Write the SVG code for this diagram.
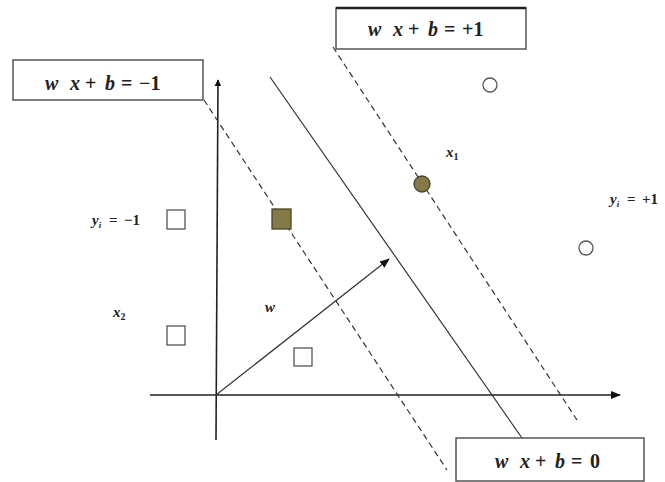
<svg xmlns="http://www.w3.org/2000/svg" width="665" height="482" viewBox="0 0 665 482">
<defs>
<style>
.box{fill:#fff;stroke:#555;stroke-width:1.5}
.eq{font-family:"Liberation Serif",serif;font-weight:bold;font-size:20px;fill:#222}
.lbl{font-family:"Liberation Serif",serif;font-weight:bold;font-size:15px;fill:#222}
.it{font-style:italic}
.ax{stroke:#222;stroke-width:1.6;fill:none}
.dash{stroke:#333;stroke-width:1.2;stroke-dasharray:6,4;fill:none}
.solid{stroke:#333;stroke-width:1.2;fill:none}
.hol{fill:#fff;stroke:#555;stroke-width:1.3}
.fill{fill:#847a48;stroke:#4a4428;stroke-width:1.3}
</style>
<marker id="ah" viewBox="0 0 10 10" refX="9" refY="5" markerWidth="7" markerHeight="7" orient="auto" markerUnits="userSpaceOnUse">
<path d="M0,0 L10,5 L0,10 z" fill="#111"/>
</marker>
<marker id="ahw" viewBox="0 0 10 10" refX="9" refY="5" markerWidth="10" markerHeight="10" orient="auto" markerUnits="userSpaceOnUse">
<path d="M0,1 L10,5 L0,9 z" fill="#111"/>
</marker>
</defs>
<rect width="665" height="482" fill="#fff"/>
<g id="connectors">
<line class="ax" x1="216" y1="440" x2="218" y2="80" marker-end="url(#ah)"/>
<line class="ax" x1="150" y1="395" x2="620" y2="395" marker-end="url(#ahw)"/>
<line class="dash" x1="204" y1="100" x2="447" y2="470"/>
<line class="solid" x1="270" y1="77" x2="522" y2="438"/>
<line class="dash" x1="333" y1="47" x2="577" y2="420"/>
<line class="solid" x1="216" y1="395" x2="389" y2="259" stroke-width="1.6" marker-end="url(#ahw)"/>
</g>
<g id="box-plus1">
<rect class="box" x="336" y="8" width="190" height="41"/>
<line x1="336" y1="8" x2="526" y2="8" stroke="#222" stroke-width="2.5"/>
<text class="eq" y="36"><tspan class="it" x="368">w</tspan><tspan class="it" x="393">x</tspan><tspan x="408">+</tspan><tspan class="it" x="428">b</tspan><tspan x="444">=</tspan><tspan x="462">+1</tspan></text>
</g>
<g id="box-minus1">
<rect class="box" x="13" y="60" width="190" height="40"/>
<text class="eq" y="90"><tspan class="it" x="45">w</tspan><tspan class="it" x="70">x</tspan><tspan x="85">+</tspan><tspan class="it" x="105">b</tspan><tspan x="121">=</tspan><tspan x="139">−1</tspan></text>
</g>
<g id="box-zero">
<rect class="box" x="456" y="438" width="188" height="43"/>
<text class="eq" y="468"><tspan class="it" x="495">w</tspan><tspan class="it" x="520">x</tspan><tspan x="535">+</tspan><tspan class="it" x="555">b</tspan><tspan x="571">=</tspan><tspan x="590">0</tspan></text>
</g>
<g id="points">
<circle class="hol" cx="490" cy="85" r="7"/>
<circle class="hol" cx="586" cy="248" r="7"/>
<circle class="fill" cx="422" cy="184" r="8"/>
<rect class="fill" x="272" y="209" width="19" height="20"/>
<rect class="hol" x="167" y="210" width="18" height="19"/>
<rect class="hol" x="167" y="326" width="18" height="19"/>
<rect class="hol" x="294" y="348" width="18" height="18"/>
</g>
<g id="labels">
<text class="lbl" x="446" y="157"><tspan class="it">x</tspan><tspan font-size="10" dy="3">1</tspan></text>
<text class="lbl" x="113" y="317"><tspan class="it">x</tspan><tspan font-size="10" dy="3">2</tspan></text>
<text class="lbl" y="225"><tspan class="it" x="92">y</tspan><tspan class="it" font-size="9" dy="3">i</tspan><tspan x="109" dy="-3">=</tspan><tspan x="124">−1</tspan></text>
<text class="lbl" y="204"><tspan class="it" x="610">y</tspan><tspan class="it" font-size="9" dy="3">i</tspan><tspan x="627" dy="-3">=</tspan><tspan x="642">+1</tspan></text>
<text class="lbl it" x="265" y="312">w</text>
</g>
</svg>
